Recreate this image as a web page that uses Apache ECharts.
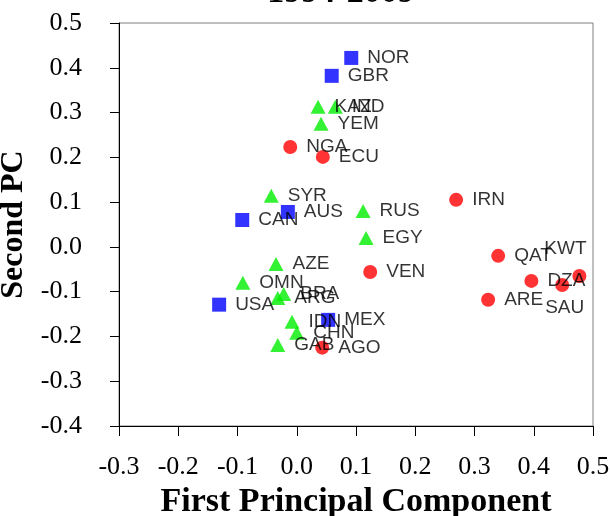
<!DOCTYPE html>
<html>
<head>
<meta charset="utf-8">
<script src="https://cdn.jsdelivr.net/npm/echarts@6/dist/echarts.min.js"></script>
<style>html,body{margin:0;padding:0;background:#fff;}#c{width:610px;height:516px;}</style>
</head>
<body>
<div id="c"></div>
<script>
// ---- data ----
const titleText = '1994-2009';
const xTicks = [-0.3, -0.2, -0.1, 0.0, 0.1, 0.2, 0.3, 0.4, 0.5];
const yTicks = [-0.4, -0.3, -0.2, -0.1, 0.0, 0.1, 0.2, 0.3, 0.4, 0.5];

const blueNames = ['NOR', 'GBR', 'CAN', 'AUS', 'USA', 'MEX'];
const blueX = [0.092, 0.059, -0.092, -0.015, -0.131, 0.053];
const blueY = [0.422, 0.382, 0.060, 0.078, -0.129, -0.163];

const greenNames = ['KAZ', 'IND', 'YEM', 'SYR', 'RUS', 'EGY', 'AZE', 'OMN', 'ARG', 'BRA', 'IDN', 'CHN', 'GAB'];
const greenX = [0.036, 0.065, 0.041, -0.043, 0.112, 0.117, -0.035, -0.091, -0.032, -0.022, -0.008, 0.000, -0.032];
const greenY = [0.313, 0.313, 0.275, 0.114, 0.080, 0.020, -0.038, -0.080, -0.114, -0.105, -0.167, -0.192, -0.219];

const redNames = ['NGA', 'ECU', 'IRN', 'VEN', 'QAT', 'ARE', 'DZA', 'SAU', 'KWT', 'AGO'];
const redX = [-0.011, 0.044, 0.269, 0.124, 0.340, 0.323, 0.396, 0.448, 0.477, 0.043];
const redY = [0.223, 0.201, 0.105, -0.056, -0.020, -0.118, -0.076, -0.085, -0.065, -0.225];

// ---- label placement tweaks (style only) ----
const labelOffsets = { KWT: [-51, -27], SAU: [-33, 23] };

function build(names, xs, ys) {
  return names.map((n, i) => {
    const item = { name: n, value: [xs[i], ys[i]] };
    if (labelOffsets[n]) item.label = { offset: labelOffsets[n] };
    return item;
  });
}

const labelStyle = {
  show: true,
  position: 'right',
  distance: 9,
  formatter: p => p.name,
  color: '#000',
  fontFamily: 'Liberation Sans, Arial, sans-serif',
  fontSize: 19
};

const chart = echarts.init(document.getElementById('c'), null, { renderer: 'canvas' });
const serif = 'Liberation Serif, Times New Roman, serif';

chart.setOption({
  animation: false,
  backgroundColor: '#fff',
  title: {
    text: titleText,
    left: 336,
    textAlign: 'center',
    top: -29,
    textStyle: { fontFamily: serif, fontWeight: 'bold', fontSize: 34, color: '#000' }
  },
  grid: {
    left: 119, right: 17, top: 23, bottom: 90,
    containLabel: false,
    outerBoundsMode: 'none',
    show: true, borderColor: '#808080', borderWidth: 1, backgroundColor: '#fff'
  },
  xAxis: {
    type: 'value',
    min: -0.3, max: 0.5, interval: 0.1,
    name: 'First Principal Component',
    nameLocation: 'middle',
    nameGap: 52,
    nameTextStyle: { fontFamily: serif, fontWeight: 'bold', fontSize: 34, color: '#000' },
    axisLine: { show: true, onZero: false, lineStyle: { color: '#000', width: 1 } },
    axisTick: { show: true, inside: false, length: 10, lineStyle: { color: '#000' } },
    splitLine: { show: false },
    axisLabel: {
      margin: 28,
      fontFamily: serif, fontSize: 26, color: '#000',
      formatter: v => {
        const t = xTicks.find(k => Math.abs(k - v) < 1e-9);
        return t === undefined ? '' : t.toFixed(1);
      }
    }
  },
  yAxis: {
    type: 'value',
    min: -0.4, max: 0.5, interval: 0.1,
    name: 'Second PC',
    nameLocation: 'middle',
    nameGap: 76,
    nameTextStyle: { fontFamily: serif, fontWeight: 'bold', fontSize: 32, color: '#000' },
    axisLine: { show: true, onZero: false, lineStyle: { color: '#000', width: 1 } },
    axisTick: { show: true, inside: false, length: 9, lineStyle: { color: '#000' } },
    splitLine: { show: false },
    axisLabel: {
      margin: 37,
      fontFamily: serif, fontSize: 26, color: '#000',
      formatter: v => {
        const t = yTicks.find(k => Math.abs(k - v) < 1e-9);
        return t === undefined ? '' : t.toFixed(1);
      }
    }
  },
  series: [
    {
      name: 'blue', type: 'scatter', symbol: 'rect', symbolSize: 14,
      itemStyle: { color: '#0000ff' },
      label: labelStyle,
      data: build(blueNames, blueX, blueY)
    },
    {
      name: 'green', type: 'scatter', symbol: 'triangle', symbolSize: [15, 14],
      itemStyle: { color: '#00ee00' },
      label: labelStyle,
      data: build(greenNames, greenX, greenY)
    },
    {
      name: 'red', type: 'scatter', symbol: 'circle', symbolSize: 14,
      itemStyle: { color: '#ff0000' },
      label: labelStyle,
      data: build(redNames, redX, redY)
    }
  ]
});
</script>
</body>
</html>
